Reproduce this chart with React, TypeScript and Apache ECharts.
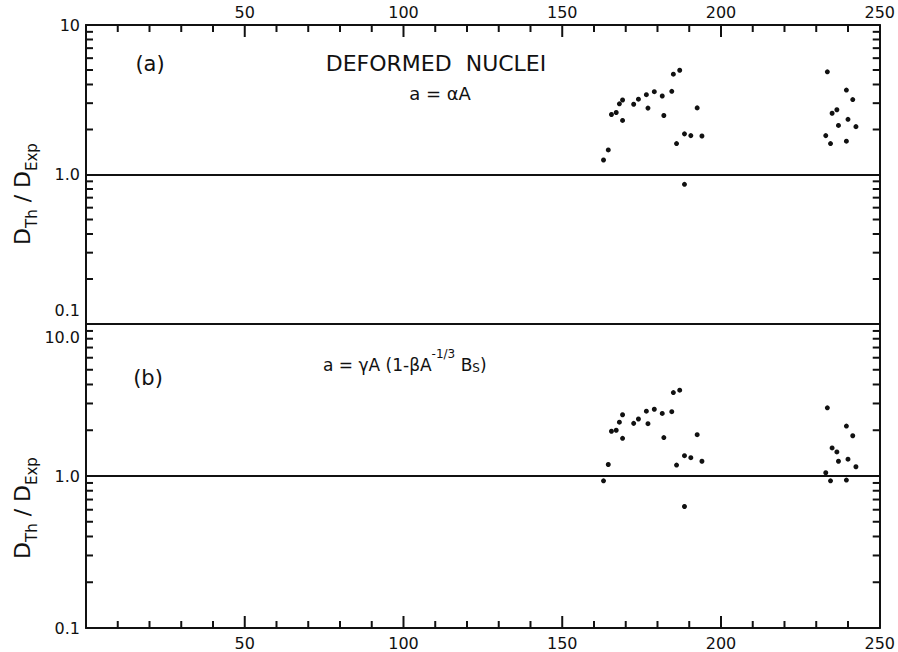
import React, { useEffect, useRef } from 'react';
import * as echarts from 'echarts';

// Mass number A of each nucleus
const massNumbers = [
  163, 164.5, 165.5, 167, 168, 169, 169, 172.5, 174, 176.5, 177, 179, 181.5, 182, 184.5, 185, 187,
  186, 188.5, 190.5, 192.5, 194, 188.5,
  233.5, 239.5, 241.5, 236.5, 235, 240, 237, 242.5, 233, 234.5, 239.5,
];
// Panel (a): a = alpha A
const ratioPanelA = [
  1.25, 1.46, 2.52, 2.6, 2.97, 3.15, 2.3, 2.95, 3.19, 3.42, 2.78, 3.58, 3.35, 2.48, 3.6, 4.69, 4.98,
  1.61, 1.87, 1.82, 2.79, 1.81, 0.86,
  4.86, 3.67, 3.17, 2.71, 2.57, 2.34, 2.13, 2.09, 1.82, 1.61, 1.67,
];
// Panel (b): a = gamma A (1 - beta A^-1/3 Bs)
const ratioPanelB = [
  0.93, 1.19, 1.97, 2.0, 2.26, 2.53, 1.77, 2.22, 2.37, 2.67, 2.21, 2.75, 2.58, 1.79, 2.65, 3.54, 3.67,
  1.18, 1.36, 1.32, 1.87, 1.25, 0.63,
  2.81, 2.13, 1.84, 1.44, 1.53, 1.29, 1.25, 1.15, 1.05, 0.93, 0.94,
];
const xTickLabels = [50, 100, 150, 200, 250];
const xMajorTickValues = [50, 100, 150, 200];
const xMinorTickValues = [10, 20, 30, 40, 60, 70, 80, 90, 110, 120, 130, 140, 160, 170, 180, 190, 210, 220, 230, 240];
const yMinorTickValues = [0.2, 0.3, 0.4, 0.5, 0.6, 0.7, 0.8, 0.9, 2, 3, 4, 5, 6, 7, 8, 9];
const yLabelsPanelA = ['0.1', '1.0', '10'];
const yLabelsPanelB = ['0.1', '1.0', '10.0'];
const X_MIN = 0;
const X_MAX = 250;
const Y_MIN = 0.1;
const Y_MAX = 10;

const FONT = 'DejaVu Sans';
const INK = '#111';

const GRID_LEFT = 86;
const GRID_RIGHT = 15;
const MINOR_LEN = 7;
const MAJOR_LEN = 12;

function decadeIndex(v: number): number {
  if (v < 0.5) return 0;
  if (v < 5) return 1;
  return 2;
}

function xAxisFor(gridIndex: number, position: 'top' | 'bottom', withLabels: boolean) {
  return {
    type: 'value',
    gridIndex,
    position,
    min: X_MIN,
    max: X_MAX,
    interval: 50,
    axisLine: { show: true, onZero: false, lineStyle: { color: INK, width: 2 } },
    axisTick: { show: false },
    axisLabel: {
      show: withLabels,
      margin: position === 'top' ? 5 : 7,
      color: INK,
      fontFamily: FONT,
      fontSize: 16,
      formatter: (v: number) => (xTickLabels.indexOf(v) >= 0 ? String(v) : ''),
    },
    splitLine: { show: false },
  };
}

function yAxisFor(gridIndex: number, position: 'left' | 'right', panel: 'a' | 'b' | null) {
  return {
    type: 'log',
    logBase: 10,
    gridIndex,
    position,
    min: Y_MIN,
    max: Y_MAX,
    axisLine: { show: true, onZero: false, lineStyle: { color: INK, width: 2 } },
    axisTick: { show: false },
    axisLabel: panel
      ? {
          show: true,
          margin: 6,
          color: INK,
          fontFamily: FONT,
          fontSize: 16,
          formatter: (v: number) => {
            const i = decadeIndex(v);
            const labels = panel === 'a' ? yLabelsPanelA : yLabelsPanelB;
            if (panel === 'a' && i === 0) return '{lo|' + labels[i] + '}';
            if (panel === 'b' && i === 2) return '{hi|' + labels[i] + '}';
            return labels[i];
          },
          rich: {
            lo: { fontFamily: FONT, fontSize: 16, color: INK, padding: [0, 0, 28, 0] },
            hi: { fontFamily: FONT, fontSize: 16, color: INK, padding: [26, 0, 0, 0] },
          },
        }
      : { show: false },
    splitLine: { show: false },
  };
}

function scatterSeries(name: string, axisIndex: number, values: number[]) {
  return {
    name,
    type: 'scatter',
    xAxisIndex: axisIndex,
    yAxisIndex: axisIndex,
    symbol: 'circle',
    symbolSize: 5,
    itemStyle: { color: INK, opacity: 1 },
    data: massNumbers.map((m, i) => [m, values[i]]),
    markLine: {
      silent: true,
      symbol: 'none',
      label: { show: false },
      lineStyle: { color: INK, width: 2.2, type: 'solid', opacity: 1 },
      data: [{ yAxis: 1 }],
    },
  };
}

const mainStyle = { fontFamily: FONT, fontSize: 22, lineHeight: 26, verticalAlign: 'top', fill: INK };
const subStyle = { fontFamily: FONT, fontSize: 15, lineHeight: 15, padding: [13, 0, 0, 0], verticalAlign: 'top', fill: INK };

function yNameText(x: number, y: number) {
  return {
    type: 'text',
    x,
    y,
    rotation: Math.PI / 2,
    style: {
      text: '{m|D}{s|Th}{m| / D}{s|Exp}',
      align: 'center',
      verticalAlign: 'middle',
      fill: INK,
      rich: { m: mainStyle, s: subStyle },
    },
  };
}

const textElements: any[] = [
  { type: 'text', x: 150, y: 64, style: { text: '(a)', fontFamily: FONT, fontSize: 21, fill: INK, align: 'center', verticalAlign: 'middle' } },
  { type: 'text', x: 436, y: 63, style: { text: 'DEFORMED  NUCLEI', fontFamily: FONT, fontSize: 22, fill: INK, align: 'center', verticalAlign: 'middle' } },
  { type: 'text', x: 440, y: 93, style: { text: 'a = αA', fontFamily: FONT, fontSize: 18, fill: INK, align: 'center', verticalAlign: 'middle' } },
  { type: 'text', x: 148, y: 378, style: { text: '(b)', fontFamily: FONT, fontSize: 21, fill: INK, align: 'center', verticalAlign: 'middle' } },
  {
    type: 'text',
    x: 323,
    y: 358,
    style: {
      text: '{m|a = γA (1-βA}{p|-1/3}{m| B}{q|S}{m|)}',
      align: 'left',
      verticalAlign: 'middle',
      fill: INK,
      rich: {
        m: { fontFamily: FONT, fontSize: 17, lineHeight: 20, padding: [8, 0, 0, 0], verticalAlign: 'top', fill: INK },
        p: { fontFamily: FONT, fontSize: 12, lineHeight: 13, verticalAlign: 'top', fill: INK },
        q: { fontFamily: FONT, fontSize: 12, lineHeight: 13, padding: [14, 0, 0, 0], verticalAlign: 'top', fill: INK },
      },
    },
  },
  yNameText(24, 194),
  yNameText(24, 508),
];

// inward tick marks, positioned through the axes' own scales (convertToPixel)
function buildTicks(chart: any): any[] {
  const els: any[] = [];
  const style = { stroke: INK, lineWidth: 2 };
  [0, 1].forEach((g) => {
    const finder = { xAxisIndex: g, yAxisIndex: g };
    const dir = g === 0 ? 1 : -1; // panel (a): ticks hang from the top; panel (b): rise from the bottom
    const edgeY = g === 0 ? Y_MAX : Y_MIN;
    yMinorTickValues.forEach((v) => {
      const pl = chart.convertToPixel(finder, [X_MIN, v]);
      const pr = chart.convertToPixel(finder, [X_MAX, v]);
      if (pl && pr) {
        els.push({ type: 'line', silent: true, shape: { x1: pl[0], y1: pl[1], x2: pl[0] + MINOR_LEN, y2: pl[1] }, style });
        els.push({ type: 'line', silent: true, shape: { x1: pr[0], y1: pr[1], x2: pr[0] - MINOR_LEN, y2: pr[1] }, style });
      }
    });
    const addX = (x: number, len: number) => {
      const p = chart.convertToPixel(finder, [x, edgeY]);
      if (p) els.push({ type: 'line', silent: true, shape: { x1: p[0], y1: p[1], x2: p[0], y2: p[1] + dir * len }, style });
    };
    xMinorTickValues.forEach((x) => addX(x, MINOR_LEN));
    xMajorTickValues.forEach((x) => addX(x, MAJOR_LEN));
  });
  return els;
}

export default function App() {
  const ref = useRef<HTMLDivElement>(null);
  useEffect(() => {
    if (!ref.current) return;
    const chart = echarts.init(ref.current, null, { renderer: 'svg' });
    const option: any = {
      animation: false,
      backgroundColor: '#fff',
      textStyle: { fontFamily: FONT },
      grid: [
        { left: GRID_LEFT, right: GRID_RIGHT, top: 25, height: 299 },
        { left: GRID_LEFT, right: GRID_RIGHT, top: 324, height: 304 },
      ],
      xAxis: [
        xAxisFor(0, 'top', true),
        xAxisFor(1, 'bottom', true),
        xAxisFor(0, 'bottom', false),
        xAxisFor(1, 'top', false),
      ],
      yAxis: [
        yAxisFor(0, 'left', 'a'),
        yAxisFor(1, 'left', 'b'),
        yAxisFor(0, 'right', null),
        yAxisFor(1, 'right', null),
      ],
      series: [scatterSeries('panelA', 0, ratioPanelA), scatterSeries('panelB', 1, ratioPanelB)],
      graphic: textElements,
    };
    chart.setOption(option);
    try {
      const ticks = buildTicks(chart);
      chart.setOption({ graphic: [...textElements, ...ticks] });
    } catch (e) {
      // keep the chart without the minor ticks if conversion fails
    }
    return () => chart.dispose();
  }, []);
  return (
    <div
      ref={ref}
      style={{ position: 'fixed', left: 0, top: 0, width: '898px', height: '652px', background: '#fff' }}
    />
  );
}
